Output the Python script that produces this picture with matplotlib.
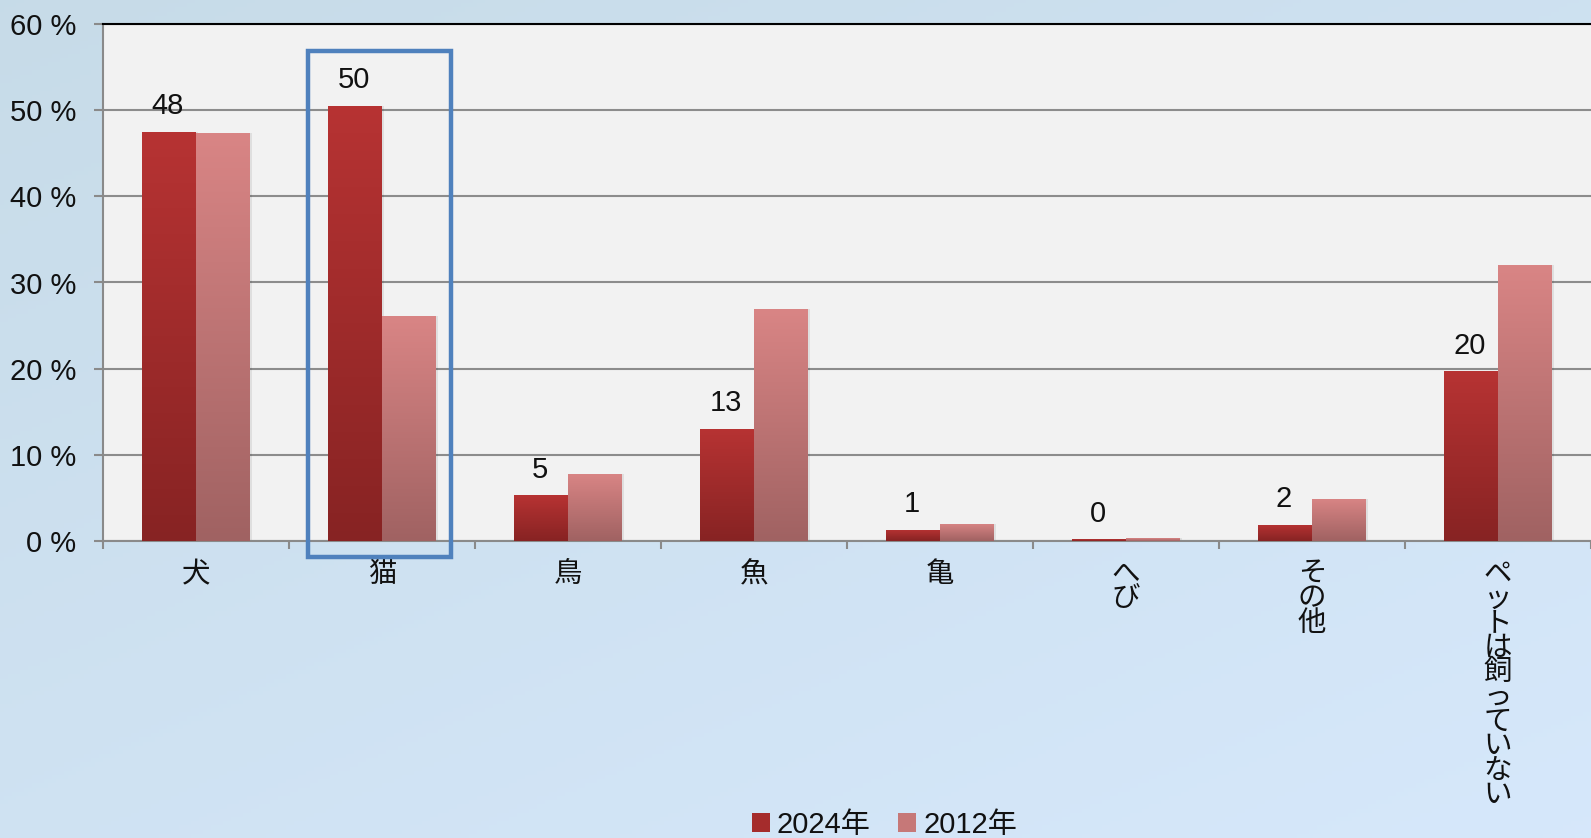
import numpy as np
import matplotlib
matplotlib.use("Agg")
import matplotlib.pyplot as plt
from matplotlib.colors import LinearSegmentedColormap
from matplotlib.patches import Rectangle, Patch

plt.rcParams['font.family'] = ['Liberation Sans', 'Noto Sans CJK JP', 'DejaVu Sans']

# ---- data ----
categories = ["犬", "猫", "鳥", "魚", "亀", "へび", "その他", "ペットは飼っていない"]
vertical_labels = [False, False, False, False, False, True, True, True]
values_2024 = [47.5, 50.5, 5.3, 13.0, 1.3, 0.2, 1.9, 19.7]
values_2012 = [47.3, 26.1, 7.8, 26.9, 2.0, 0.3, 4.9, 32.0]
labels_2024 = ["48", "50", "5", "13", "1", "0", "2", "20"]
series_names = ["2024年", "2012年"]
y_ticks = [0, 10, 20, 30, 40, 50, 60]
y_tick_labels = ["0 %", "10 %", "20 %", "30 %", "40 %", "50 %", "60 %"]
highlight_index = 1

W, H = 1591, 838
fig = plt.figure(figsize=(W / 100, H / 100), dpi=100)

# background gradient
bg = fig.add_axes([0, 0, 1, 1], zorder=-10)
bg.axis("off")
yy, xx = np.mgrid[0:1:200j, 0:1:400j]
t = 0.55 * yy + 0.45 * xx
c0 = np.array([0.78, 0.86, 0.91])
c1 = np.array([0.84, 0.91, 0.985])
img = c0[None, None, :] * (1 - t[..., None]) + c1[None, None, :] * t[..., None]
bg.imshow(img, extent=[0, 1, 0, 1], aspect="auto", origin="upper")
bg.set_xlim(0, 1)
bg.set_ylim(0, 1)

left = 103 / W
bottom = (H - 541) / H
top = (H - 24) / H
ax = fig.add_axes([left, bottom, 1 - left, top - bottom])
ax.set_facecolor("#f2f2f2")

n = len(categories)
x = np.arange(n)
bw = 0.29

cmap24 = LinearSegmentedColormap.from_list("c24", ["#872323", "#b73333"])
cmap12 = LinearSegmentedColormap.from_list("c12", ["#a06262", "#d98585"])
grad = np.linspace(0, 1, 256).reshape(-1, 1)

def grad_bars(xs, vals, cmap, solid):
    for xc, v in zip(xs, vals):
        x0 = xc - bw / 2
        sh = Rectangle((x0 + 0.012, 0), bw, v, facecolor="#000000", alpha=0.08,
                       edgecolor="none", zorder=2.5)
        ax.add_patch(sh)
        r = Rectangle((x0, 0), bw, v, facecolor=solid, edgecolor="none", zorder=3)
        ax.add_patch(r)
        im = ax.imshow(grad, extent=[x0, x0 + bw, 0, v], origin="lower",
                       aspect="auto", cmap=cmap, zorder=3.1)
        im.set_clip_path(r)

grad_bars(x - bw / 2, values_2024, cmap24, "#a02b2b")
grad_bars(x + bw / 2, values_2012, cmap12, "#c07272")

for xc, v, lab in zip(x - bw / 2, values_2024, labels_2024):
    ax.annotate(lab, (xc, v), xytext=(-1, 18.5), textcoords="offset points",
                ha="center", va="center", fontsize=21, color="#111111", zorder=5)

ax.set_xlim(-0.5, n - 0.5)
ax.set_ylim(0, 60)

ax.set_yticks(y_ticks)
ax.set_yticklabels(y_tick_labels)
ax.tick_params(axis="y", length=6.5, width=1.5, color="#8a8a8a", pad=13,
               labelsize=21, labelcolor="#111111")
ax.yaxis.grid(True, color="#8c8c8c", linewidth=1.5, zorder=1)
ax.set_axisbelow(True)

ax.set_xticks(x)
ax.set_xticklabels([])
ax.set_xticks(np.arange(n + 1) - 0.5, minor=True)
ax.tick_params(axis="x", which="major", length=0)
ax.tick_params(axis="x", which="minor", length=6, width=1.5, color="#8a8a8a")

for xc, cat, vert in zip(x, categories, vertical_labels):
    txt = "\n".join(cat) if vert else cat
    ax.annotate(txt, (xc, 0), xycoords=("data", "data"), xytext=(0, -15),
                textcoords="offset points", ha="center", va="top",
                fontsize=20.5, color="#111111", linespacing=0.93,
                annotation_clip=False)

for s in ["left", "bottom"]:
    ax.spines[s].set_color("#8a8a8a")
    ax.spines[s].set_linewidth(1.5)
ax.spines["top"].set_color("#000000")
ax.spines["top"].set_linewidth(1.5)
ax.spines["right"].set_visible(False)

# highlight box around cat category
box = Rectangle((highlight_index - 0.4, -1.86), 0.77, 58.7, fill=False,
                edgecolor="#4f81bd", linewidth=3.2, zorder=6, clip_on=False)
ax.add_patch(box)

# legend
handles = [Patch(facecolor="#a52c2c", edgecolor="none"),
           Patch(facecolor="#c67878", edgecolor="none")]
fig.legend(handles, series_names, loc="lower center", bbox_to_anchor=(0.556, -0.032),
           ncol=2, frameon=False, fontsize=21, handlelength=0.6, handleheight=0.6,
           handletextpad=0.25, columnspacing=0.95, labelcolor="#111111")

fig.savefig("out.png", dpi=100)
